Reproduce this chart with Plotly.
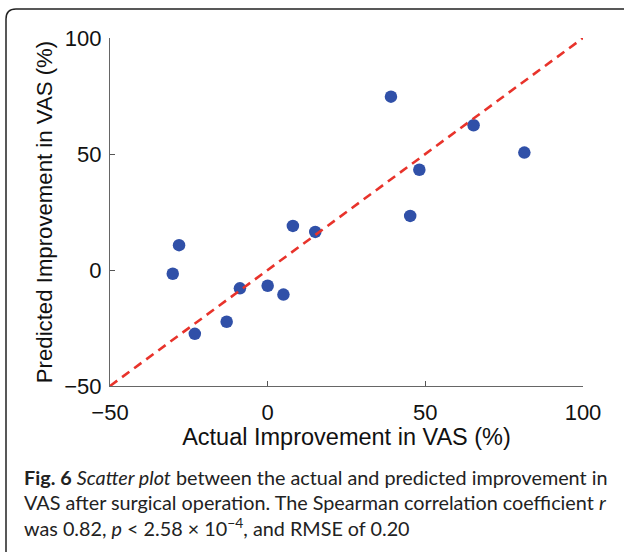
import plotly.graph_objects as go

# values (percent)
actual_improvement = [39.1, 65.3, 81.4, 48.1, 45.2, 8.0, 15.1, -28.1, -30.1, -8.8, 0.0, 5.0, -13.0, -23.1]
predicted_improvement = [74.7, 62.4, 50.6, 43.2, 23.3, 19.0, 16.4, 10.7, -1.6, -7.9, -6.8, -10.6, -22.3, -27.5]
identity_line = [-50, 100]
tick_values = [-50, 0, 50, 100]

caption_lines = [
    "<b>Fig. 6</b> <i>Scatter plot</i> between the actual and predicted improvement in",
    "VAS after surgical operation. The Spearman correlation coefficient <i>r</i>",
    "was 0.82, <i>p</i> &lt; 2.58 × 10<sup>−4</sup>, and RMSE of 0.20",
]

W, H = 624, 552
L, R, T, B = 110, 41, 38, 166
pw, ph = W - L - R, H - T - B


def px(x):
    return (x - L) / pw


def py(y):
    return (H - B - y) / ph


fig = go.Figure()

fig.add_trace(go.Scatter(
    x=actual_improvement, y=predicted_improvement, mode="markers",
    marker=dict(size=12.5, color="#3050a8", line=dict(width=0)),
    showlegend=False,
))

fig.add_trace(go.Scatter(
    x=identity_line, y=identity_line, mode="lines",
    line=dict(color="#e8332b", width=2.6, dash="9px,6px"),
    showlegend=False, cliponaxis=False,
))

axis_style = dict(
    range=[-50, 100], tickvals=tick_values, ticks="inside", ticklen=5,
    tickcolor="#555", showline=True, linecolor="#666", linewidth=1.2,
    showgrid=False, zeroline=False, mirror=False,
    tickfont=dict(family="Liberation Sans, Arial", size=22, color="#111"),
)

fig.update_xaxes(**axis_style, ticklabelstandoff=6, title=dict(
    text="Actual Improvement in VAS (%)", standoff=4,
    font=dict(family="Liberation Sans, Arial", size=23.5, color="#111")))
fig.update_yaxes(**axis_style, ticklabelstandoff=3, title=dict(
    text="Predicted Improvement in VAS (%)", standoff=5,
    font=dict(family="Liberation Sans, Arial", size=22.2, color="#111")))

# caption under the chart
for i, line in enumerate(caption_lines):
    fig.add_annotation(
        text=line, xref="paper", yref="paper", x=px(22), y=py(477 + i * 25),
        xanchor="left", yanchor="middle", showarrow=False, align="left",
        font=dict(family="Lato, Open Sans", size=19.8, color="#222"),
    )

# rounded frame around the figure (only top and left visible)
r = 10
frame = (
    f"M {px(6)} {py(560)} L {px(6)} {py(9 + r)} "
    f"Q {px(6)} {py(9)} {px(6 + r)} {py(9)} L {px(640)} {py(9)}"
)
fig.add_shape(type="path", path=frame, xref="paper", yref="paper",
              line=dict(color="#222", width=1.5))

fig.update_layout(
    width=W, height=H, margin=dict(l=L, r=R, t=T, b=B),
    paper_bgcolor="white", plot_bgcolor="white",
)

fig.write_html("out.html", config={"displayModeBar": False},
               post_script="document.body.style.margin='0';")
